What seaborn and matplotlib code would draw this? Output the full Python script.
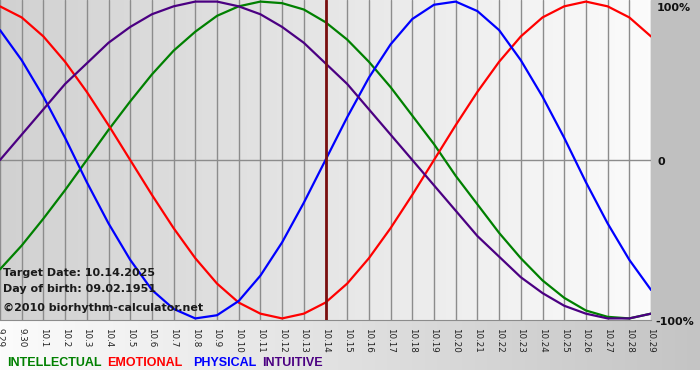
import numpy as np
import pandas as pd
import matplotlib
matplotlib.use('Agg')
import matplotlib.pyplot as plt
import seaborn as sns

# day labels on the x axis (9.29 .. 10.29), target date is 10.14
days = ['9.29', '9.30'] + ['10.%d' % d for d in range(1, 30)]
target_day = '10.14'

# values, one per day
intellectual = [-0.69, -0.54, -0.37, -0.19, 0.0, 0.19, 0.37, 0.54, 0.69, 0.81, 0.91,
                0.97, 1.0, 0.99, 0.95, 0.87, 0.76, 0.62, 0.46, 0.28, 0.10,
                -0.10, -0.28, -0.46, -0.62, -0.76, -0.87, -0.95, -0.99, -1.0, -0.97]
emotional = [0.97, 0.90, 0.78, 0.62, 0.43, 0.22, 0.0, -0.22, -0.43, -0.62, -0.78,
             -0.90, -0.97, -1.0, -0.97, -0.90, -0.78, -0.62, -0.43, -0.22, 0.0,
             0.22, 0.43, 0.62, 0.78, 0.90, 0.97, 1.0, 0.97, 0.90, 0.78]
physical = [0.82, 0.63, 0.40, 0.14, -0.14, -0.40, -0.63, -0.82, -0.94, -1.0, -0.98,
            -0.89, -0.73, -0.52, -0.27, 0.0, 0.27, 0.52, 0.73, 0.89, 0.98,
            1.0, 0.94, 0.82, 0.63, 0.40, 0.14, -0.14, -0.40, -0.63, -0.82]
intuitive = [0.0, 0.16, 0.32, 0.48, 0.61, 0.74, 0.84, 0.92, 0.97, 1.0, 1.0,
             0.97, 0.92, 0.84, 0.74, 0.61, 0.48, 0.32, 0.16, 0.0, -0.16,
             -0.32, -0.48, -0.61, -0.74, -0.84, -0.92, -0.97, -1.0, -1.0, -0.97]

names = ['INTELLECTUAL', 'EMOTIONAL', 'PHYSICAL', 'INTUITIVE']
colors = {'INTELLECTUAL': '#008000', 'EMOTIONAL': '#ff0000',
          'PHYSICAL': '#0000ff', 'INTUITIVE': '#4b0082'}

frames = []
for name, vals in zip(names, [intellectual, emotional, physical, intuitive]):
    frames.append(pd.DataFrame({'day': range(len(days)), 'value': vals, 'cycle': name}))
df = pd.concat(frames, ignore_index=True)

sns.set_style('white')
plt.rcParams['font.family'] = ['DejaVu Sans']

W, H = 700, 380
fig = plt.figure(figsize=(W / 100, H / 100), dpi=100)

# page background: grey strip on the right, fading band under the plot
bg = np.full((H, W), 255.0)
bg[:320, 651:] = 192
bg[320:370, :] = np.linspace(252, 196, W)[None, :]
bgax = fig.add_axes([0, 0, 1, 1])
bgax.imshow(np.dstack([bg] * 3) / 255, aspect='auto', interpolation='nearest')
bgax.axis('off')

ax = fig.add_axes([0, 60 / H, 651 / W, 320 / H])
ax.set_facecolor('none')
grad = np.linspace(0.82, 0.985, 200)[None, :]
ax.imshow(np.dstack([grad] * 3), extent=[0, 30, -1.01, 1.01], aspect='auto', zorder=0)

for i in range(len(days)):
    ax.axvline(i, color='#8c8c8c', lw=1, zorder=1)
ax.axhline(0, color='#8c8c8c', lw=1, zorder=1)

sns.lineplot(data=df, x='day', y='value', hue='cycle', palette=colors,
             linewidth=1.6, legend=False, ax=ax, zorder=3)
ax.axvline(days.index(target_day), color='#7a0f0f', lw=2, zorder=4)

ax.set_xlim(0, 30)
ax.set_ylim(-1.01, 1.01)
ax.set_xlabel('')
ax.set_ylabel('')
ax.set_yticks([])
ax.set_xticks(range(len(days)))
ax.set_xticklabels(days, rotation=270, fontsize=6.3, color='#222222')
ax.tick_params(axis='x', length=5, color='#8c8c8c', pad=1, direction='out')
for s in ['top', 'left', 'right']:
    ax.spines[s].set_visible(False)
ax.spines['bottom'].set_color('#8c8c8c')

def px(x, y):
    return x / W, 1 - y / H

info = dict(fontsize=8, fontweight='bold', color='#1a1a1a', va='baseline')
fig.text(*px(3, 276), 'Target Date: 10.14.2025', **info)
fig.text(*px(3, 292), 'Day of birth: 09.02.1951', **info)
fig.text(*px(3, 311), '\u00a92010 biorhythm-calculator.net', **info)

side = dict(fontsize=8, fontweight='bold', color='#111111', va='center')
fig.text(*px(657, 8), '100%', **side)
fig.text(*px(658, 162), '0', **side)
fig.text(*px(655, 322), '-100%', **side)

xs = [7, 107, 193, 262]
for name, x in zip(names, xs):
    fig.text(*px(x, 366), name, fontsize=9, fontweight='bold', color=colors[name],
             va='baseline', family=['Liberation Sans', 'DejaVu Sans'])

fig.savefig('out.png', dpi=100)
